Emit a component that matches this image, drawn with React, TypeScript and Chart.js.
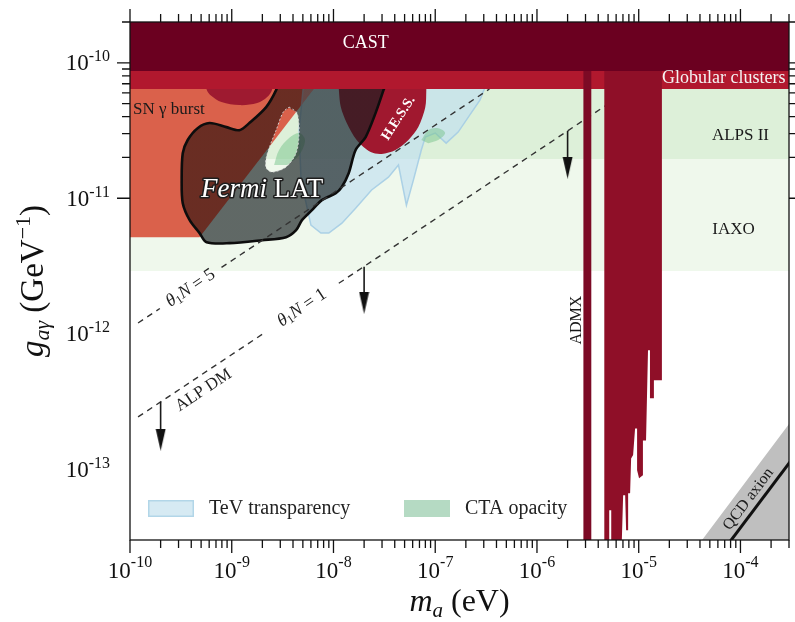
import React, { useEffect, useRef } from 'react';
import { Chart, registerables } from 'chart.js';

Chart.register(...registerables);

type P = [number, number];
const SERIF = "'Liberation Serif', 'DejaVu Serif', 'Times New Roman', serif";

// ---------- axes ----------
const massRange: P = [1e-10, 3e-4];
const couplingRange: P = [3e-14, 2e-10];
const massTickExponents = [-10, -9, -8, -7, -6, -5, -4];
const couplingTickExponents = [-13, -12, -11, -10];

// ---------- horizontal bands (GeV^-1) ----------
const bandMassEdges: P = [5e-11, 5e-4];
const bandTop = 5e-10;
const castLower = 8.7e-11;
const globularLower = 6.4e-11;
const alpsLower = 1.95e-11;
const iaxoLower = 2.9e-12;

// ---------- regions (m_a in eV, g in GeV^-1) ----------
const snBurst: P[] = [[5e-11, 7.45e-11], [7.5e-9, 7.45e-11], [4.83e-10, 5.16e-12], [5e-11, 5.16e-12]];

const redBump: P[] = [[5.65e-10, 7.45e-11], [5.65e-10, 6.39e-11], [6.33e-10, 5.68e-11], [7.92e-10, 5.13e-11],
  [1.19e-9, 4.87e-11], [1.78e-9, 5.04e-11], [2.23e-9, 5.58e-11], [2.5e-9, 6.39e-11], [2.5e-9, 7.45e-11]];

const hess: P[] = [[1.13e-8, 7.45e-11], [1.13e-8, 6.28e-11], [1.18e-8, 4.71e-11], [1.35e-8, 3.59e-11],
  [1.69e-8, 2.69e-11], [2.32e-8, 2.19e-11], [2.97e-8, 2.12e-11], [4.07e-8, 2.27e-11], [5.45e-8, 2.69e-11],
  [6.82e-8, 3.35e-11], [7.99e-8, 4.71e-11], [8.17e-8, 6.28e-11], [8.17e-8, 7.45e-11]];

const tevTransparency: P[] = [[5.13e-9, 7.45e-11], [4.59e-9, 3.18e-11], [4.8e-9, 1.36e-11], [6.0e-9, 6.33e-12],
  [7.52e-9, 5.53e-12], [9.0e-9, 5.53e-12], [1.21e-8, 6.55e-12], [1.65e-8, 8.45e-12], [2.37e-8, 1.15e-11],
  [3.47e-8, 1.43e-11], [4.35e-8, 1.76e-11], [5.21e-8, 8.89e-12], [6.1e-8, 1.36e-11], [7.3e-8, 2.27e-11],
  [7.99e-8, 2.83e-11], [1.0e-7, 3.03e-11], [1.28e-7, 2.55e-11], [1.68e-7, 3.08e-11], [2.25e-7, 4.25e-11],
  [2.75e-7, 5.3e-11], [3.15e-7, 6.84e-11], [3.15e-7, 7.45e-11]];

const ctaOpacityA: P[] = [[2.61e-9, 1.76e-11], [2.92e-9, 2.27e-11], [3.66e-9, 2.78e-11], [4.59e-9, 3.03e-11],
  [5.25e-9, 2.69e-11], [4.59e-9, 2.08e-11], [3.5e-9, 1.76e-11]];
const ctaOpacityB: P[] = [[7.3e-8, 2.69e-11], [8.55e-8, 3.18e-11], [1.07e-7, 3.29e-11], [1.25e-7, 3.03e-11],
  [1.07e-7, 2.69e-11], [8.55e-8, 2.55e-11]];

const fermiOuter: P[] = [[2.92e-9, 7.45e-11], [2.73e-9, 6.28e-11], [2.18e-9, 4.71e-11], [1.49e-9, 3.59e-11],
  [1.19e-9, 3.18e-11], [8.87e-10, 3.35e-11], [6.05e-10, 3.59e-11], [4.62e-10, 3.29e-11], [3.69e-10, 2.69e-11],
  [3.3e-10, 2.15e-11], [3.22e-10, 1.36e-11], [3.3e-10, 9.2e-12], [3.86e-10, 6.89e-12], [4.83e-10, 5.53e-12],
  [5.66e-10, 4.74e-12], [9.49e-10, 4.66e-12], [1.99e-9, 4.9e-12], [3.42e-9, 5.16e-12], [4.29e-9, 5.81e-12],
  [4.9e-9, 6.89e-12], [6.14e-9, 8.17e-12], [7.69e-9, 9.68e-12], [1.054e-8, 1.09e-11], [1.206e-8, 1.21e-11],
  [1.41e-8, 1.53e-11], [1.65e-8, 2.27e-11], [2.07e-8, 2.83e-11], [2.59e-8, 4.25e-11], [3.1e-8, 6.28e-11],
  [3.32e-8, 7.45e-11]];
const fermiHole: P[] = [[3.66e-9, 4.71e-11], [4.38e-9, 4.25e-11], [4.59e-9, 3.03e-11], [4.29e-9, 2.15e-11],
  [3.42e-9, 1.7e-11], [2.5e-9, 1.56e-11], [2.18e-9, 1.67e-11], [2.18e-9, 1.98e-11], [2.39e-9, 2.47e-11],
  [2.73e-9, 3.18e-11], [3.2e-9, 4.32e-11]];
const fermiSlit: P = [3.66e-9, 7.45e-11];

const admxStrip: P[] = [[2.86e-6, 8.7e-11], [3.42e-6, 8.7e-11], [3.42e-6, 2e-14], [2.86e-6, 2e-14]];
const admxMain: P[] = [[4.59e-6, 8.7e-11], [1.69e-5, 8.7e-11], [1.69e-5, 4.53e-13], [1.41e-5, 4.53e-13],
  [1.41e-5, 3.34e-13], [1.29e-5, 3.34e-13], [1.29e-5, 7.55e-13], [1.234e-5, 7.55e-13], [1.18e-5, 1.63e-13],
  [1.1e-5, 1.63e-13], [1.1e-5, 9.0e-14], [1.008e-5, 8.57e-14], [9.64e-6, 9.8e-14], [9.64e-6, 2.0e-13],
  [9.21e-6, 2.0e-13], [8.81e-6, 1.27e-13], [8.42e-6, 1.2e-13], [8.23e-6, 6.64e-14], [7.87e-6, 6.64e-14],
  [7.87e-6, 3.54e-14], [7.52e-6, 3.54e-14], [7.36e-6, 6.42e-14], [7.03e-6, 6.42e-14], [6.72e-6, 2e-14],
  [5.37e-6, 2e-14], [5.37e-6, 4.97e-14], [5.13e-6, 4.97e-14], [5.13e-6, 2e-14], [4.59e-6, 2e-14]];

const qcdBand: P[] = [[2.8e-5, 2.0e-14], [4e-4, 2.88e-13], [4e-4, 2.0e-14]];
const qcdAxionLine: P[] = [[5.4e-5, 2.0e-14], [4e-4, 1.47e-13]];

// ALP dark-matter lines (null = gap for the label)
const theta5Line: (P | null)[] = [[1.2e-10, 1.2e-12], [1.965e-10, 1.535e-12], null, [7.93e-10, 3.085e-12], [3.41e-7, 6.4e-11]];
const theta1Line: (P | null)[] = [[1.2e-10, 2.43e-13], [2.133e-9, 1.024e-12], null, [1.128e-8, 2.356e-12], [8.3e-6, 6.4e-11]];

const arrowMass = [2.0e-10, 2.0e-8, 2.0e-6];
const arrowTop = [3.14e-13, 3.12e-12, 3.13e-11];
const arrowHead = [1.65e-13, 1.69e-12, 1.68e-11];

// ---------- colours ----------
const fermiOverSN = 'rgba(47,18,14,0.66)';
const fermiOverSky = 'rgba(22,30,32,0.66)';

// ---------- labels ----------
type Part = { t: string; f: string; dy?: number };
type Ann = { parts: Part[]; m: number; g: number; color: string; rot?: number; align?: CanvasTextAlign; stroke?: string };
const f = (s: string) => `${s} ${SERIF}`;
const annotations: Ann[] = [
  { parts: [{ t: 'CAST', f: f('18px') }], m: 2.07e-8, g: 1.4e-10, color: '#ffffff' },
  { parts: [{ t: 'Globular clusters', f: f('18px') }], m: 6.85e-5, g: 7.7e-11, color: '#f4f4f4' },
  { parts: [{ t: 'SN γ burst', f: f('17px') }], m: 1.07e-10, g: 4.55e-11, color: '#1a1a1a', align: 'left' },
  { parts: [{ t: 'Fermi', f: f('italic 27px') }, { t: ' LAT', f: f('27px') }], m: 1.99e-9, g: 1.15e-11, color: '#ffffff', stroke: '#1e1e1e' },
  { parts: [{ t: 'H.E.S.S.', f: f('bold 14px') }], m: 4.35e-8, g: 3.9e-11, color: '#ffffff', rot: -57 },
  { parts: [{ t: 'ALPS II', f: f('17px') }], m: 1.0e-4, g: 2.92e-11, color: '#1a1a1a' },
  { parts: [{ t: 'IAXO', f: f('17px') }], m: 8.55e-5, g: 5.9e-12, color: '#1a1a1a' },
  { parts: [{ t: 'ADMX', f: f('16px') }], m: 2.44e-6, g: 1.26e-12, color: '#1a1a1a', rot: -90 },
  { parts: [{ t: 'QCD axion', f: f('16px') }], m: 1.2e-4, g: 6.0e-14, color: '#1a1a1a', rot: -53 },
  { parts: [{ t: 'θ', f: f('italic 18px') }, { t: '1', f: f('12px'), dy: 4 }, { t: 'N', f: f('italic 18px') }, { t: ' = 5', f: f('18px') }],
    m: 3.94e-10, g: 2.17e-12, color: '#222', rot: -33.5 },
  { parts: [{ t: 'θ', f: f('italic 18px') }, { t: '1', f: f('12px'), dy: 4 }, { t: 'N', f: f('italic 18px') }, { t: ' = 1', f: f('18px') }],
    m: 4.9e-9, g: 1.554e-12, color: '#222', rot: -33.5 },
  { parts: [{ t: 'ALP DM', f: f('17px') }], m: 5.28e-10, g: 3.83e-13, color: '#222', rot: -33.5 },
];

const legendItems = [
  { label: 'TeV transparency', fill: '#d6eaf3', border: '#b2d6e8', offset: 18 },
  { label: 'CTA opacity', fill: '#b5dac3', border: '#b5dac3', offset: 274 },
];

function richWidth(ctx: CanvasRenderingContext2D, parts: Part[]) {
  let w = 0;
  for (const p of parts) { ctx.font = p.f; w += ctx.measureText(p.t).width; }
  return w;
}
function drawRich(ctx: CanvasRenderingContext2D, parts: Part[], x: number, y: number, align: CanvasTextAlign = 'center', mode: 'fill' | 'stroke' = 'fill') {
  const w = richWidth(ctx, parts);
  let cx = align === 'left' ? x : align === 'right' ? x - w : x - w / 2;
  ctx.textAlign = 'left';
  for (const p of parts) {
    ctx.font = p.f;
    if (mode === 'stroke') ctx.strokeText(p.t, cx, y + (p.dy || 0));
    else ctx.fillText(p.t, cx, y + (p.dy || 0));
    cx += ctx.measureText(p.t).width;
  }
}

const toXY = (pts: (P | null)[]) => pts.map((p) => (p ? { x: p[0], y: p[1] } : { x: NaN, y: null as any }));
const band = (lo: number, hi: number): P[] => [[bandMassEdges[0], lo], [bandMassEdges[1], lo], [bandMassEdges[1], hi], [bandMassEdges[0], hi]];

function region(pts: P[], color: any, extra: any = {}) {
  return { type: 'line', data: toXY(pts), fill: 'shape', backgroundColor: color, borderColor: 'rgba(0,0,0,0)', borderWidth: 0, pointRadius: 0, tension: 0, ...extra };
}
function curve(pts: (P | null)[], color: string, width: number, extra: any = {}) {
  return { type: 'line', data: toXY(pts), fill: false, borderColor: color, borderWidth: width, pointRadius: 0, tension: 0, ...extra };
}

// Fermi fill tinted differently on each side of the SN-burst edge
function fermiFillColor(c: any) {
  const chart = c.chart;
  const xs = chart.scales && chart.scales.x, ys = chart.scales && chart.scales.y;
  if (!xs || !ys) return fermiOverSky;
  const ax = xs.getPixelForValue(snBurst[2][0]), ay = ys.getPixelForValue(snBurst[2][1]);
  const bx = xs.getPixelForValue(snBurst[1][0]), by = ys.getPixelForValue(snBurst[1][1]);
  if (![ax, ay, bx, by].every(Number.isFinite)) return fermiOverSky;
  let nx = by - ay, ny = -(bx - ax);
  const len = Math.hypot(nx, ny) || 1; nx /= len; ny /= len;
  const L = 500;
  const g = chart.ctx.createLinearGradient(ax - nx * L, ay - ny * L, ax + nx * L, ay + ny * L);
  const qx = xs.getPixelForValue(massRange[0]) - ax, qy = ys.getPixelForValue(1e-11) - ay;
  const leftFirst = qx * nx + qy * ny < 0;
  const c0 = leftFirst ? fermiOverSN : fermiOverSky, c1 = leftFirst ? fermiOverSky : fermiOverSN;
  g.addColorStop(0, c0); g.addColorStop(0.5, c0); g.addColorStop(0.5, c1); g.addColorStop(1, c1);
  return g;
}

const decorPlugin = {
  id: 'decor',
  afterDatasetsDraw(chart: any) {
    const ctx: CanvasRenderingContext2D = chart.ctx;
    const xs = chart.scales.x, ys = chart.scales.y;
    const { left, bottom } = chart.chartArea;
    for (const a of annotations) {
      const px = xs.getPixelForValue(a.m), py = ys.getPixelForValue(a.g);
      ctx.save();
      ctx.translate(px, py);
      ctx.rotate(((a.rot || 0) * Math.PI) / 180);
      ctx.textBaseline = 'middle';
      if (a.stroke) {
        ctx.strokeStyle = a.stroke; ctx.lineWidth = 3.2; ctx.lineJoin = 'round';
        drawRich(ctx, a.parts, 0, 0, a.align || 'center', 'stroke');
      }
      ctx.fillStyle = a.color;
      drawRich(ctx, a.parts, 0, 0, a.align || 'center', 'fill');
      ctx.restore();
    }
    // legend
    ctx.save();
    for (const it of legendItems) {
      const bx = left + it.offset, by = bottom - 40;
      ctx.fillStyle = it.fill; ctx.fillRect(bx, by, 46, 17);
      ctx.strokeStyle = it.border; ctx.lineWidth = 1.5; ctx.strokeRect(bx + 0.75, by + 0.75, 44.5, 15.5);
      ctx.fillStyle = '#222'; ctx.font = f('20px'); ctx.textBaseline = 'middle'; ctx.textAlign = 'left';
      ctx.fillText(it.label, bx + 61, by + 9);
    }
    ctx.restore();
  },
  afterDraw(chart: any) {
    const ctx: CanvasRenderingContext2D = chart.ctx;
    const xs = chart.scales.x, ys = chart.scales.y;
    const { left, right, top, bottom } = chart.chartArea;
    ctx.save();
    ctx.strokeStyle = '#111'; ctx.lineWidth = 1.3;
    ctx.beginPath();
    for (let e = -11; e <= -3; e++) for (let k = 1; k <= 9; k++) {
      const v = k * Math.pow(10, e);
      const len = k === 1 ? 13 : 8;
      if (v >= massRange[0] * 0.999 && v <= massRange[1] * 1.001) {
        const x = xs.getPixelForValue(v);
        ctx.moveTo(x, bottom); ctx.lineTo(x, bottom + len);
        ctx.moveTo(x, top); ctx.lineTo(x, top - len);
      }
      if (v >= couplingRange[0] * 0.999 && v <= couplingRange[1] * 1.001) {
        const y = ys.getPixelForValue(v);
        ctx.moveTo(left, y); ctx.lineTo(left - len, y);
        ctx.moveTo(right, y); ctx.lineTo(right + len, y);
      }
    }
    ctx.stroke();
    ctx.strokeRect(left, top, right - left, bottom - top);
    // tick labels
    ctx.fillStyle = '#111'; ctx.textBaseline = 'alphabetic';
    for (const e of massTickExponents) {
      const x = xs.getPixelForValue(Math.pow(10, e));
      drawRich(ctx, [{ t: '10', f: f('23px') }, { t: `${e}`, f: f('16px'), dy: -11 }], x, 578, 'center');
    }
    for (const e of couplingTickExponents) {
      const y = ys.getPixelForValue(Math.pow(10, e));
      drawRich(ctx, [{ t: '10', f: f('23px') }, { t: `${e}`, f: f('16px'), dy: -9 }], 110, y + 7.5, 'right');
    }
    // axis titles
    drawRich(ctx, [{ t: 'm', f: f('italic 32px') }, { t: 'a', f: f('italic 21px'), dy: 6 }, { t: ' (eV)', f: f('32px') }], (left + right) / 2, 611, 'center');
    ctx.translate(43, (top + bottom) / 2);
    ctx.rotate(-Math.PI / 2);
    drawRich(ctx, [{ t: 'g', f: f('italic 33px') }, { t: 'aγ', f: f('italic 22px'), dy: 6 }, { t: ' (GeV', f: f('33px') },
      { t: '−1', f: f('22px'), dy: -13 }, { t: ')', f: f('33px') }], 0, 0, 'center');
    ctx.restore();
  },
};

export default function App() {
  const ref = useRef<HTMLCanvasElement | null>(null);
  useEffect(() => {
    const head = document.createElement('canvas');
    head.width = 11; head.height = 22;
    const hc = head.getContext('2d')!;
    hc.fillStyle = '#111';
    hc.beginPath(); hc.moveTo(0.5, 0); hc.lineTo(10.5, 0); hc.lineTo(5.5, 22); hc.closePath(); hc.fill();

    const fermiFill: P[] = [...fermiOuter, fermiSlit, ...fermiHole, fermiHole[0], fermiSlit, fermiOuter[0]];

    const layers: any[] = [
      region(band(iaxoLower, bandTop), '#eff8ec'),
      region(band(alpsLower, bandTop), '#ddf0d9'),
      region(snBurst, '#da614b'),
      region(redBump, '#9e1a30', { tension: 0.35 }),
      region(tevTransparency, 'rgba(190,222,240,0.62)', { borderColor: 'rgba(165,205,228,0.9)', borderWidth: 1.5 }),
      region(ctaOpacityA, 'rgba(120,195,140,0.5)', { tension: 0.35 }),
      region(ctaOpacityB, 'rgba(120,195,140,0.5)', { tension: 0.35 }),
      region(hess, '#a0182f', { tension: 0.3 }),
      region(fermiFill, fermiFillColor, { tension: 0.3 }),
      curve([...fermiOuter, fermiOuter[0]], '#0d0d0d', 2.6, { tension: 0.3 }),
      curve([...fermiHole, fermiHole[0]], 'rgba(215,215,215,0.9)', 1, { tension: 0.3, borderDash: [2, 2] }),
      curve(theta5Line, '#333', 1.4, { borderDash: [6, 5] }),
      curve(theta1Line, '#333', 1.4, { borderDash: [6, 5] }),
      ...arrowMass.map((m, i) => curve([[m, arrowTop[i]], [m, arrowHead[i]]], '#1a1a1a', 1.6)),
      { type: 'line', data: toXY(arrowMass.map((m, i) => [m, arrowHead[i]] as P)), showLine: false, pointRadius: 5, pointStyle: head, fill: false },
      region(band(globularLower, castLower), '#b1182e'),
      region(admxStrip, '#7c0a25'),
      region(admxMain, '#8f0f28'),
      region(band(castLower, bandTop), '#6b0020'),
      region(qcdBand, '#bfbfbf'),
      curve(qcdAxionLine, '#111', 3),
    ];
    layers.forEach((d, i) => { d.order = -i; });

    const chart = new Chart(ref.current as HTMLCanvasElement, {
      type: 'line',
      data: { datasets: layers },
      options: {
        animation: false,
        responsive: true,
        maintainAspectRatio: false,
        events: [],
        layout: { padding: { left: 130, top: 22, right: 3, bottom: 82 } },
        plugins: { legend: { display: false }, tooltip: { enabled: false }, title: { display: false } },
        scales: {
          x: { type: 'logarithmic', min: massRange[0], max: massRange[1], display: false },
          y: { type: 'logarithmic', min: couplingRange[0], max: couplingRange[1], display: false },
        },
      } as any,
      plugins: [decorPlugin as any],
    } as any);
    return () => chart.destroy();
  }, []);
  return (
    <div style={{ position: 'fixed', left: 0, top: 0, width: 795, height: 622, background: '#fff' }}>
      <canvas ref={ref} />
    </div>
  );
}
